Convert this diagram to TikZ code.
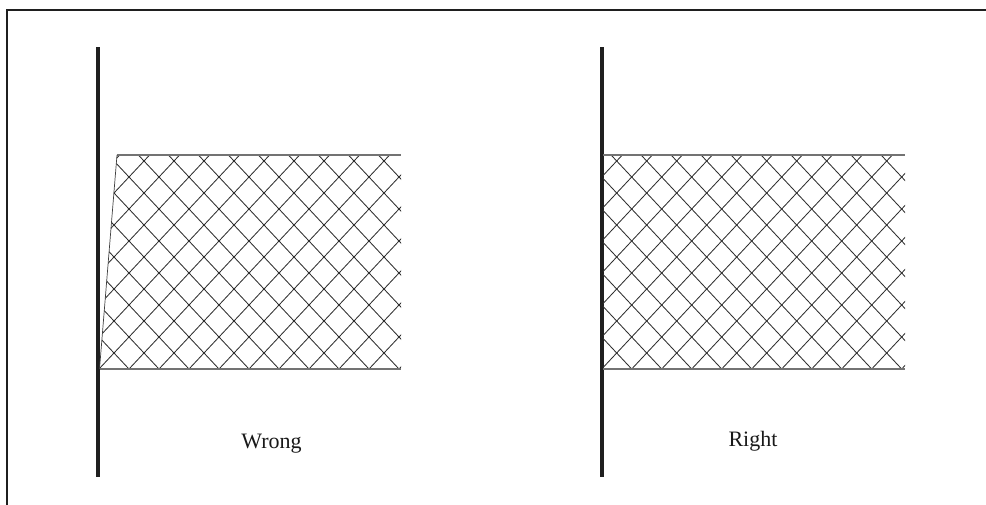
\documentclass[tikz,border=0pt]{standalone}
\usepackage{fontspec}
\setmainfont{Liberation Serif}
\begin{document}
\begin{tikzpicture}[x=1pt,y=-1pt,
  wall/.style={line width=3.4pt,color=black!88},
  hatchline/.style={line width=0.85pt,color=black!82},
  edgeline/.style={line width=1.1pt,color=black!55},
  caption/.style={font=\fontsize{22}{25}\selectfont,color=black!90}]
\useasboundingbox (0,0) rectangle (986,504);
% frame (right and bottom edges lie outside the picture)
\draw[line width=2pt,color=black!88] (7,10) rectangle (1000,520);
% walls
\coordinate (wl1) at (98,47); \coordinate (wl2) at (98,477);
\coordinate (wr1) at (602,47); \coordinate (wr2) at (602,477);
\draw[wall] (wl1) -- (wl2);
\draw[wall] (wr1) -- (wr2);
% left (wrong) region
\coordinate (la) at (99.5,369); \coordinate (lb) at (117,155);
\coordinate (lc) at (401,155); \coordinate (ld) at (401,369);
\begin{scope}
  \clip (la) -- (lb) -- (lc) -- (ld) -- cycle;
  \foreach \i in {-15,...,15}{
    \draw[hatchline] (129+30*\i-30,369+32) -- (129+30*\i+300,369-320);
    \draw[hatchline] (129+30*\i+30,369+32) -- (129+30*\i-300,369-320);
  }
\end{scope}
\draw[edgeline] (la) -- (ld);
\draw[edgeline] (lb) -- (lc);
\draw[line width=0.7pt,color=black!75] (la) -- (lb);
% right region
\coordinate (ra) at (603,369); \coordinate (rb) at (603,155);
\coordinate (rc) at (905,155); \coordinate (rd) at (905,369);
\begin{scope}
  \clip (ra) -- (rb) -- (rc) -- (rd) -- cycle;
  \foreach \i in {-15,...,15}{
    \draw[hatchline] (631.7+30*\i-30,369+32) -- (631.7+30*\i+300,369-320);
    \draw[hatchline] (631.7+30*\i+30,369+32) -- (631.7+30*\i-300,369-320);
  }
\end{scope}
\draw[edgeline] (ra) -- (rd);
\draw[edgeline] (rb) -- (rc);
% captions
\node[caption] (wrong) at (271.5,444) {Wrong};
\node[caption] (right) at (753,441) {Right};
\end{tikzpicture}
\end{document}
